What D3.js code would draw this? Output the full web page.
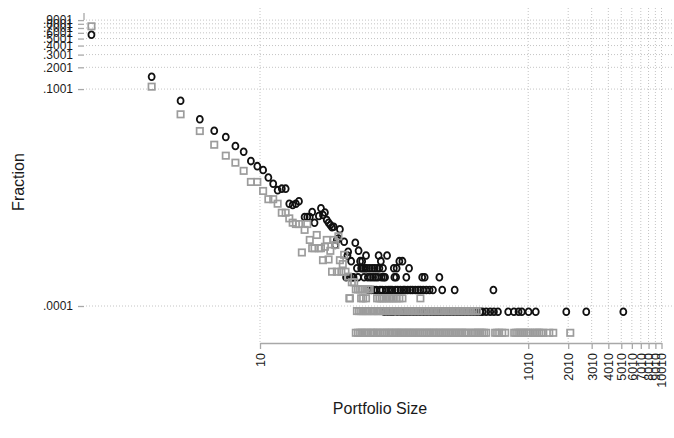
<!DOCTYPE html>
<html>
<head>
<meta charset="utf-8">
<script src="https://cdn.jsdelivr.net/npm/d3@7"></script>
<style>
    body { margin: 0; background: #fff; }
    .chart text { font-family: "Liberation Sans", Arial, sans-serif; fill: #1a1a1a; }
    .grid line { stroke: #c4c4c4; stroke-width: 1; stroke-dasharray: 1,2; }
    .axis path, .axis line { stroke: #a8a8a8; stroke-width: 1.3; }
</style>
</head>
<body>
<div class="chart"></div>
<script>
var xTickValues = [10, 1010, 2010, 3010, 4010, 5010, 6010, 7010, 8010, 9010, 10010];
var yTickValues = [.0001, .1001, .2001, .3001, .4001, .5001, .6001, .7001, .8001, .9001];

// small portfolios, one point each (circles)
var circleSize = [0.55, 1.55, 2.55, 3.55, 4.55, 5.55, 6.55, 7.55, 8.55, 9.55,
    10.55, 11.55, 12.55, 13.55, 14.55, 15.55, 16.55, 17.55, 18.55, 19.55,
    21.55, 22.55, 23.55, 24.55, 25.55, 27.55, 28.55, 29.55, 30.55, 31.55,
    32.55, 33.55, 34.55, 35.55, 36.55, 37.55, 38.55, 39.55, 42.55, 45.55,
    51.55, 54.55];
var circleFrac = [.565, .148, .0691, .0382, .0266, .0218, .0163, .0136, .0101, .0086,
    .0076, .0060, .0049, .0040, .0042, .0042, .0026, .0025, .0026, .0028,
    .0017, .0017, .0017, .0020, .00142, .00176, .00225, .00181, .00196, .00155,
    .00142, .00132, .00123, .00125, .000698, .00082, .00086, .00115, .000775, .000564,
    .00075, .000583];

// small portfolios, one point each (squares)
var squareSize = [0.55, 1.55, 2.55, 3.55, 4.55, 5.55, 6.55, 7.55, 8.55, 9.55,
    10.55, 11.55, 12.55, 13.55, 14.55, 15.55, 16.55, 17.55, 18.55, 19.55,
    20.55, 21.55, 22.55, 23.55, 24.55, 25.55, 26.55, 27.55, 28.55, 29.55,
    30.55, 31.55, 32.55, 33.55, 34.55, 35.55, 36.55, 37.55, 38.55, 39.55,
    40.55, 41.55, 42.55, 43.55, 45.55, 46.55, 48.55, 50.55];
var squareFrac = [.739, .108, .0448, .0263, .0170, .0120, .0096, .0074, .0052, .0052,
    .0039, .0030, .0030, .0026, .00195, .00195, .00163, .00142, .00136, .00136,
    .00055, .00113, .00136, .00082, .00063, .00063, .00096, .00063, .00063, .00043,
    .00066, .00082, .00044, .00058, .000298, .00082, .000698, .000298, .00092, .00043,
    .000298, .00038, .00051, .000298, .000255, .000128, .000213, .000213];

// larger portfolios fall on a few count levels
var circleLevels = [8.33e-5, 1.667e-4, 2.5e-4, 3.33e-4, 4.17e-4, 5.0e-4];
var circleLevelSizes = [
    [85, 90, 95, 99, 106, 113, 119, 125, 132, 140, 148, 157, 167, 177, 188, 199, 210, 222,
        235, 249, 263, 279, 296, 313, 331, 351, 372, 394, 417, 442, 460, 490, 525, 560, 600,
        716, 790, 855, 905, 1016, 1150, 1945, 2743, 5190],
    [65, 68, 71, 74, 79, 82, 87, 91, 94, 97, 103, 107, 112, 118, 121, 127, 133, 138, 145,
        152, 158, 166, 175, 185, 196, 230, 285, 555],
    [44, 47, 49, 50, 54, 60, 64, 67, 70, 73, 76, 81, 84, 86, 101, 104, 124, 163, 170, 219],
    [53, 57, 59, 61, 63, 66, 69, 72, 75, 78, 83, 100, 105, 130],
    [48, 56, 58, 80, 110, 116],
    [45, 62, 77, 89]
];
var squareLevels = [4.26e-5, 8.51e-5, 1.277e-4, 1.70e-4];
var squareLevelSizes = [
    [52, 54, 56, 58, 60, 62, 64, 67, 69, 71, 74, 76, 79, 82, 85, 88, 91, 94, 97, 101, 104,
        108, 111, 115, 119, 124, 128, 132, 137, 142, 147, 152, 157, 163, 169, 175, 181, 187,
        194, 200, 207, 215, 222, 230, 238, 246, 255, 264, 273, 283, 292, 303, 313, 324, 336,
        347, 360, 385, 399, 413, 427, 442, 457, 473, 490, 572, 592, 613, 646, 680, 794, 822,
        851, 880, 911, 943, 976, 1010, 1046, 1100, 1140, 1180, 1220, 1265, 1310, 1451, 1554, 2083],
    [53, 55, 57, 59, 61, 63, 65, 68, 70, 72, 75, 77, 80, 83, 86, 89, 92, 95, 99, 102, 106,
        109, 113, 117, 121, 126, 130, 134, 139, 144, 149, 154, 160, 166, 172, 178, 184, 190,
        197, 203, 211, 218, 226, 234, 242, 250, 259, 268, 278, 287, 297, 308, 318, 330, 341,
        353, 366, 378, 392, 406, 420],
    [47, 57, 59, 62, 75, 78, 81, 84, 88, 92, 96, 100, 105, 110, 116, 158],
    [52, 54, 56, 58, 61, 64, 66]
];

function toPoints(sizes, fracs) {
    return sizes.map(function (s, i) { return { size: s, frac: fracs[i] }; });
}

function levelPoints(levels, levelSizes) {
    var pts = [];
    levels.forEach(function (f, i) {
        levelSizes[i].forEach(function (s) { pts.push({ size: s, frac: f }); });
    });
    return pts;
}

function drawChart() {
    var width = 674, height = 438;

    var x = d3.scaleLog()
        .domain([10, 10010])
        .range([260, 661.5]);

    var y = d3.scaleLog()
        .domain([.0001, .9001])
        .range([306, 20.1]);

    var svg = d3.select(".chart").append("svg")
        .attr("width", width)
        .attr("height", height);

    // dotted grid
    var grid = svg.append("g").attr("class", "grid");
    grid.selectAll(".hgrid")
        .data(yTickValues)
        .enter().append("line")
        .attr("x1", 86).attr("x2", 672)
        .attr("y1", function (d) { return y(d); })
        .attr("y2", function (d) { return y(d); });
    grid.selectAll(".vgrid")
        .data(xTickValues)
        .enter().append("line")
        .attr("y1", 8).attr("y2", 343)
        .attr("x1", function (d) { return x(d); })
        .attr("x2", function (d) { return x(d); });

    // x axis, only spans the labelled ticks
    var xAxis = svg.append("g")
        .attr("class", "axis x")
        .attr("transform", "translate(0,343)")
        .call(d3.axisBottom(x)
            .tickValues(xTickValues)
            .tickFormat(function (d) { return String(d); })
            .tickSizeInner(6)
            .tickSizeOuter(0));
    xAxis.selectAll("text")
        .attr("transform", "rotate(-90)")
        .attr("x", -10)
        .attr("y", 0)
        .attr("dy", ".35em")
        .style("text-anchor", "end")
        .style("font-size", "12.5px");

    // y axis: ticks and labels, no line
    var yAxis = svg.append("g")
        .attr("class", "axis y")
        .attr("transform", "translate(84,0)")
        .call(d3.axisLeft(y)
            .tickValues(yTickValues)
            .tickFormat(function (d) { return String(d).replace(/^0/, ""); })
            .tickSize(6)
            .tickPadding(5));
    yAxis.select(".domain").remove();
    yAxis.selectAll("text").style("font-size", "12px");
    yAxis.append("path") // little stub above the top tick
        .attr("d", "M0,13V" + y(.9001))
        .attr("stroke", "#a8a8a8")
        .attr("stroke-width", 1.3);

    var circles = toPoints(circleSize, circleFrac).concat(levelPoints(circleLevels, circleLevelSizes));
    var squares = toPoints(squareSize, squareFrac).concat(levelPoints(squareLevels, squareLevelSizes));

    svg.append("g").selectAll("ellipse")
        .data(circles)
        .enter().append("ellipse")
        .attr("cx", function (d) { return x(d.size); })
        .attr("cy", function (d) { return y(d.frac); })
        .attr("rx", 3)
        .attr("ry", 3.4)
        .attr("fill", "none")
        .attr("stroke", "#111")
        .attr("stroke-width", 1.8);

    var s = 6.4;
    svg.append("g").selectAll("rect")
        .data(squares)
        .enter().append("rect")
        .attr("x", function (d) { return x(d.size) - s / 2; })
        .attr("y", function (d) { return y(d.frac) - s / 2; })
        .attr("width", s)
        .attr("height", s)
        .attr("fill", "none")
        .attr("stroke", "#9c9c9c")
        .attr("stroke-width", 1.7);

    // axis titles
    svg.append("text")
        .attr("transform", "translate(24,182) rotate(-90)")
        .style("text-anchor", "middle")
        .style("font-size", "16px")
        .text("Fraction");

    svg.append("text")
        .attr("x", 380)
        .attr("y", 414)
        .style("text-anchor", "middle")
        .style("font-size", "16px")
        .text("Portfolio Size");
}

document.addEventListener("DOMContentLoaded", drawChart);
</script>
</body>
</html>
